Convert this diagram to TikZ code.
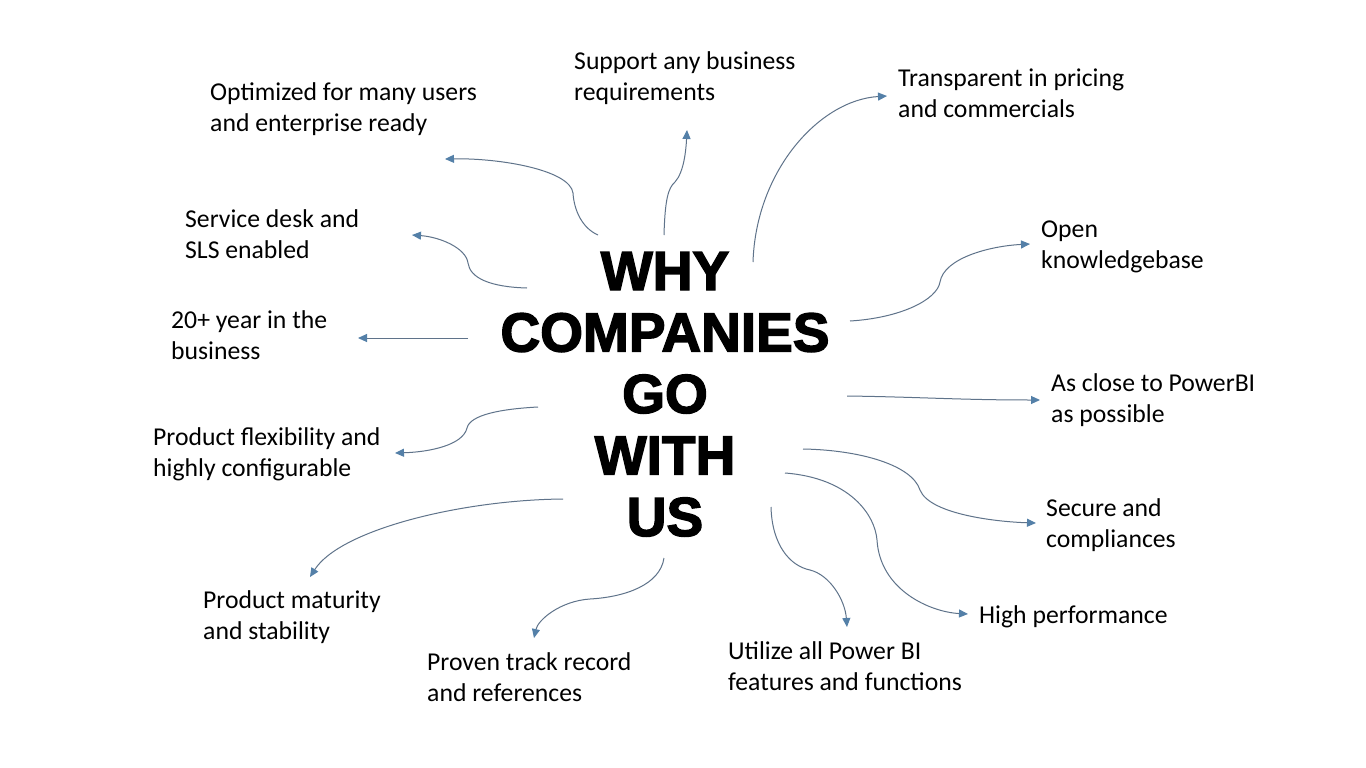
\documentclass[tikz,border=0pt]{standalone}
\usepackage{fontspec}
\setmainfont{Carlito}
\newfontfamily\titlefont[FakeBold=2.6]{Liberation Sans Bold}
\usetikzlibrary{arrows.meta}
\definecolor{linec}{RGB}{95,115,138}
\definecolor{tipc}{RGB}{84,128,168}
\newcommand{\TwoL}[2]{\vtop{\hbox{#1}\hbox{#2}}}
\newcommand{\TitleBox}{\vtop{\halign{\hfil##\hfil\cr WHY\cr COMPANIES\cr GO\cr WITH\cr US\cr}}}
\tikzset{
  lbl/.style={anchor=base west, inner sep=0pt, font=\fontsize{25.7}{31}\selectfont},
  ttl/.style={anchor=base, inner sep=0pt, font=\titlefont\fontsize{55}{61.5}\selectfont},
  arr/.style={draw=linec, line width=1pt, -{Triangle[length=9pt,width=8pt,color=tipc]}},
}
\begin{document}
\begin{tikzpicture}[x=1pt,y=-1pt]
\path[fill=white,use as bounding box] (0,0) rectangle (1366,768);

% title
\node[ttl] (title) at (665,290) {\TitleBox};

% labels
\node[lbl] (optim) at (210,100) {\TwoL{Optimized for many users}{and enterprise ready}};
\node[lbl] (supp)  at (574,70)  {\TwoL{Support any business}{requirements}};
\node[lbl] (trans) at (898,87)  {\TwoL{Transparent in pricing}{and commercials}};
\node[lbl] (serv)  at (185,227) {\TwoL{Service desk and}{SLS enabled}};
\node[lbl] (open)  at (1041,237){\TwoL{Open}{knowledgebase}};
\node[lbl] (year)  at (171,328) {\TwoL{20+ year in the}{business}};
\node[lbl] (close) at (1051,391){\TwoL{As close to PowerBI}{as possible}};
\node[lbl] (flex)  at (153,445) {\TwoL{Product flexibility and}{highly configurable}};
\node[lbl] (secure)at (1046,516){\TwoL{Secure and}{compliances}};
\node[lbl] (matur) at (203,608) {\TwoL{Product maturity}{and stability}};
\node[lbl] (perf)  at (979,623) {High performance};
\node[lbl] (proven)at (427,670) {\TwoL{Proven track record}{and references}};
\node[lbl] (util)  at (728,659) {\TwoL{Utilize all Power BI}{features and functions}};

% connector end points
\coordinate (s1) at (598,235);  \coordinate (e1) at (445,159);
\coordinate (s2) at (527,288);  \coordinate (e2) at (412,235);
\coordinate (s3) at (468,338);  \coordinate (e3) at (358,338);
\coordinate (s4) at (664,235);  \coordinate (e4) at (687,130);
\coordinate (s5) at (753,262);  \coordinate (e5) at (887,96);
\coordinate (s6) at (850,321);  \coordinate (e6) at (1030,244);
\coordinate (s7) at (847,396);  \coordinate (e7) at (1040,400);
\coordinate (s8) at (803,449);  \coordinate (e8) at (1036,523);
\coordinate (s9) at (785,473);  \coordinate (e9) at (968,614);
\coordinate (s10) at (771,507); \coordinate (e10) at (847,627);
\coordinate (s11) at (664,558); \coordinate (e11) at (534,638);
\coordinate (s12) at (563,499); \coordinate (e12) at (310,577);
\coordinate (s13) at (538,407); \coordinate (e13) at (395,453);

% connectors
\draw[arr] (s1) .. controls (582,228) and (574,210) .. (573,193) .. controls (570,170) and (500,158) .. (e1);
\draw[arr] (s2) .. controls (490,287) and (470,278) .. (468,263) .. controls (466,248) and (440,237) .. (e2);
\draw[arr] (s3) -- (e3);
\draw[arr] (s4) .. controls (665,200) and (668,188) .. (675,182) .. controls (684,172) and (686,150) .. (e4);
\draw[arr] (s5) .. controls (756,170) and (820,100) .. (e5);
\draw[arr] (s6) .. controls (900,318) and (937,300) .. (940,282) .. controls (944,258) and (990,246) .. (e6);
\draw[arr] (s7) .. controls (920,397) and (960,400) .. (e7);
\draw[arr] (s8) .. controls (860,450) and (912,465) .. (920,490) .. controls (930,515) and (1000,522) .. (e8);
\draw[arr] (s9) .. controls (850,478) and (875,515) .. (877,540) .. controls (880,590) and (930,612) .. (e9);
\draw[arr] (s10) .. controls (772,545) and (790,566) .. (810,570) .. controls (830,575) and (845,600) .. (e10);
\draw[arr] (s11) .. controls (660,585) and (625,597) .. (590,599) .. controls (560,601) and (538,620) .. (e11);
\draw[arr] (s12) .. controls (460,500) and (340,530) .. (e12);
\draw[arr] (s13) .. controls (500,409) and (470,415) .. (467,428) .. controls (463,445) and (430,452) .. (e13);
\end{tikzpicture}
\end{document}
